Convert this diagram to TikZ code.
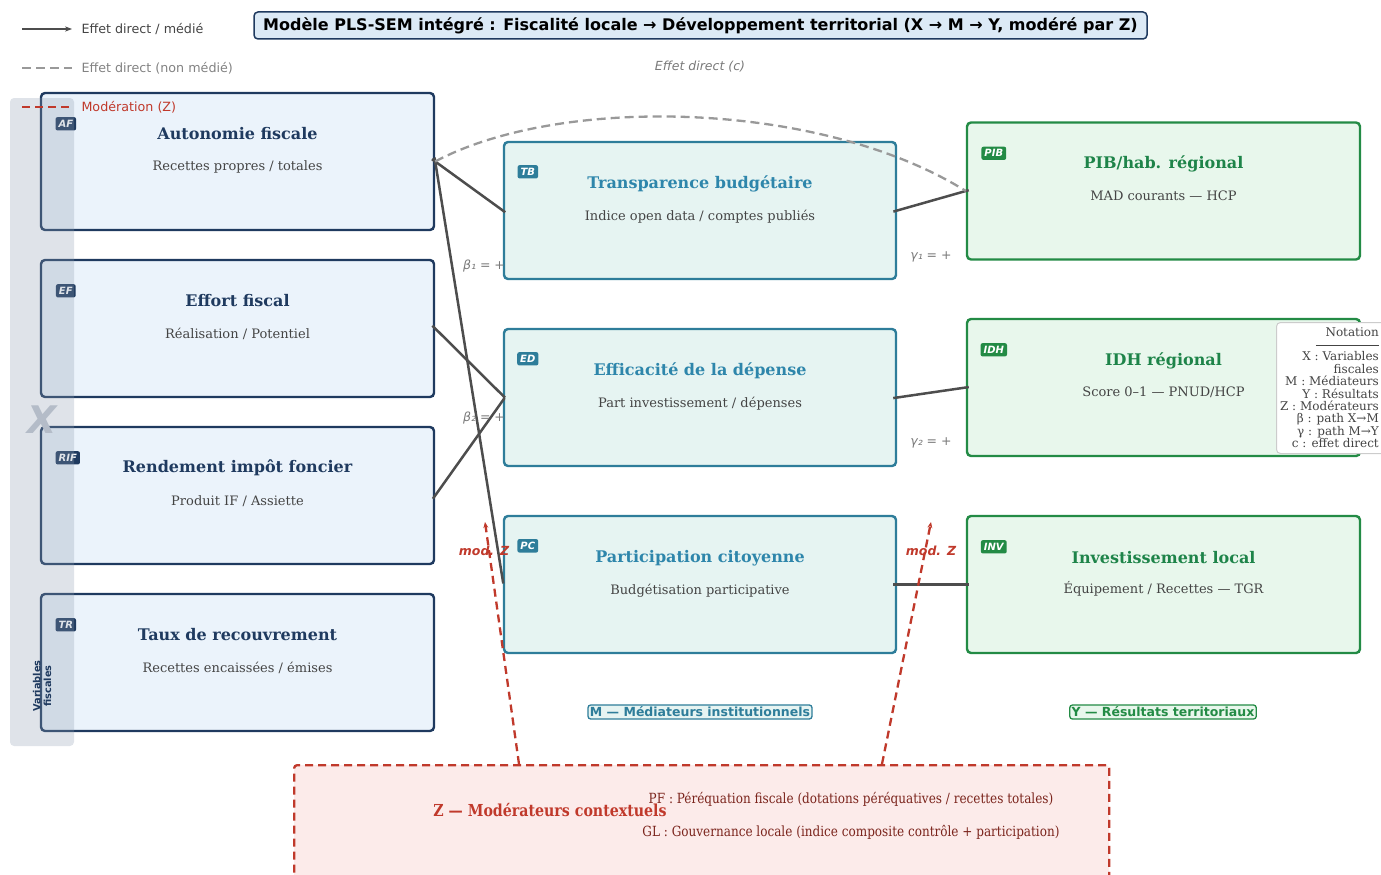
\documentclass[tikz,border=0pt]{standalone}
\usepackage{fontspec}
\setmainfont{DejaVu Serif}
\setsansfont{DejaVu Sans}
\newfontfamily\narrowserif{DejaVu Serif}[FakeStretch=0.86]
\usetikzlibrary{arrows.meta,positioning}

\definecolor{xnavy}{HTML}{1F3A5F}
\definecolor{xfill}{HTML}{EBF3FB}
\definecolor{mteal}{HTML}{2E7D9A}
\definecolor{mtitle}{HTML}{2E86AB}
\definecolor{mfill}{HTML}{E6F4F2}
\definecolor{ygreen}{HTML}{238B45}
\definecolor{ytitle}{HTML}{1E8449}
\definecolor{yfill}{HTML}{E8F7EC}
\definecolor{zred}{HTML}{C0392B}
\definecolor{zfill}{HTML}{FCEBEA}
\definecolor{zdark}{HTML}{7B241C}
\definecolor{subgray}{HTML}{444444}
\definecolor{linegray}{HTML}{4D4D4D}
\definecolor{dashgray}{HTML}{999999}
\definecolor{titlefill}{HTML}{DCEAF6}
\definecolor{bandcol}{HTML}{8C9BAF}
\definecolor{xgray}{HTML}{B4BCC8}

\tikzset{
  varbox/.style={draw, line width=2.4pt, rounded corners=4pt, minimum width=393pt, minimum height=137pt, inner sep=0pt},
  xbox/.style={varbox, draw=xnavy, fill=xfill},
  mbox/.style={varbox, draw=mteal, fill=mfill, minimum width=392pt},
  ybox/.style={varbox, draw=ygreen, fill=yfill},
  badge/.style={rounded corners=2pt, inner sep=3pt, text=white, font=\sffamily\bfseries\itshape\fontsize{10}{10}\selectfont},
  vtitle/.style={font=\bfseries\fontsize{16}{16}\selectfont},
  vsub/.style={text=subgray, font=\fontsize{13}{13}\selectfont},
  effect/.style={draw=linegray, line width=2.5pt, shorten <=-4pt, shorten >=-3pt},
  direct/.style={draw=dashgray, line width=2.3pt, dash pattern=on 9pt off 5pt},
  modline/.style={draw=zred, line width=2.3pt, dash pattern=on 8pt off 5pt, -{Stealth[length=6pt,width=5pt]}},
  modlab/.style={text=zred, font=\sffamily\bfseries\itshape\fontsize{12.5}{12.5}\selectfont},
  coef/.style={text=dashgray!80!black, font=\sffamily\itshape\fontsize{12.5}{12.5}\selectfont},
  legtext/.style={anchor=west, font=\sffamily\fontsize{12.7}{12.7}\selectfont},
  grouplab/.style={line width=1.3pt, rounded corners=3pt, inner sep=2pt, font=\sffamily\bfseries\fontsize{12.5}{12.5}\selectfont}
}

\begin{document}
\begin{tikzpicture}[x=1pt,y=-1pt]
\useasboundingbox (0,0) rectangle (1381,875);

% X : variables fiscales
\node[xbox] (af) at (237.5,161.5) {};
\node[xbox] (ef) at (237.5,328.5) {};
\node[xbox] (rif) at (237.5,495.5) {};
\node[xbox] (tr) at (237.5,662.5) {};
\node[vtitle, text=xnavy] (af-t) at ([yshift=-42pt]af.north) {Autonomie fiscale};
\node[vsub] (af-s) at ([yshift=-75pt]af.north) {Recettes propres / totales};
\node[vtitle, text=xnavy] (ef-t) at ([yshift=-42pt]ef.north) {Effort fiscal};
\node[vsub] (ef-s) at ([yshift=-75pt]ef.north) {Réalisation / Potentiel};
\node[vtitle, text=xnavy] (rif-t) at ([yshift=-42pt]rif.north) {Rendement impôt foncier};
\node[vsub] (rif-s) at ([yshift=-75pt]rif.north) {Produit IF / Assiette};
\node[vtitle, text=xnavy] (tr-t) at ([yshift=-42pt]tr.north) {Taux de recouvrement};
\node[vsub] (tr-s) at ([yshift=-75pt]tr.north) {Recettes encaissées / émises};
\node[badge, fill=xnavy] (af-b) at ([xshift=26pt,yshift=-32pt]af.north west) {AF};
\node[badge, fill=xnavy] (ef-b) at ([xshift=26pt,yshift=-32pt]ef.north west) {EF};
\node[badge, fill=xnavy] (rif-b) at ([xshift=28pt,yshift=-32pt]rif.north west) {RIF};
\node[badge, fill=xnavy] (tr-b) at ([xshift=26pt,yshift=-32pt]tr.north west) {TR};

% M : mediateurs
\node[mbox] (tb) at (700,210.5) {};
\node[mbox] (ed) at (700,397.5) {};
\node[mbox] (pc) at (700,584.5) {};
\node[vtitle, text=mtitle] (tb-t) at ([yshift=-43pt]tb.north) {Transparence budgétaire};
\node[vsub] (tb-s) at ([yshift=-76pt]tb.north) {Indice open data / comptes publiés};
\node[vtitle, text=mtitle] (ed-t) at ([yshift=-43pt]ed.north) {Efficacité de la dépense};
\node[vsub] (ed-s) at ([yshift=-76pt]ed.north) {Part investissement / dépenses};
\node[vtitle, text=mtitle] (pc-t) at ([yshift=-43pt]pc.north) {Participation citoyenne};
\node[vsub] (pc-s) at ([yshift=-76pt]pc.north) {Budgétisation participative};
\node[badge, fill=mteal] (tb-b) at ([xshift=25pt,yshift=-31pt]tb.north west) {TB};
\node[badge, fill=mteal] (ed-b) at ([xshift=25pt,yshift=-31pt]ed.north west) {ED};
\node[badge, fill=mteal] (pc-b) at ([xshift=25pt,yshift=-31pt]pc.north west) {PC};

% Y : resultats
\node[ybox] (pib) at (1163.5,191) {};
\node[ybox] (idh) at (1163.5,387.5) {};
\node[ybox] (inv) at (1163.5,584.5) {};
\node[vtitle, text=ytitle] (pib-t) at ([yshift=-43pt]pib.north) {PIB/hab. régional};
\node[vsub] (pib-s) at ([yshift=-74pt]pib.north) {MAD courants — HCP};
\node[vtitle, text=ytitle] (idh-t) at ([yshift=-43pt]idh.north) {IDH régional};
\node[vsub] (idh-s) at ([yshift=-74pt]idh.north) {Score 0–1 — PNUD/HCP};
\node[vtitle, text=ytitle] (inv-t) at ([yshift=-43pt]inv.north) {Investissement local};
\node[vsub] (inv-s) at ([yshift=-74pt]inv.north) {Équipement / Recettes — TGR};
\node[badge, fill=ygreen] (pib-b) at ([xshift=28pt,yshift=-32pt]pib.north west) {PIB};
\node[badge, fill=ygreen] (idh-b) at ([xshift=28pt,yshift=-32pt]idh.north west) {IDH};
\node[badge, fill=ygreen] (inv-b) at ([xshift=28pt,yshift=-32pt]inv.north west) {INV};

% bande X
\node[fill=bandcol, fill opacity=0.28, rounded corners=4pt, minimum width=64pt, minimum height=648pt] (xband) at (42,422) {};
\node[text=xgray, font=\sffamily\bfseries\itshape\fontsize{38}{38}\selectfont] (xbig) at (42,420) {X};
\node[rotate=90, align=center, text=xnavy, font=\sffamily\bfseries\fontsize{9.8}{10.8}\selectfont] (xlab) at (42,686) {Variables\\fiscales};

% Z
\node[draw=zred, fill=zfill, line width=2.3pt, dash pattern=on 8pt off 5pt, rounded corners=3pt, minimum width=815pt, minimum height=130pt, anchor=north west] (zbox) at (293,764) {};
\node[text=zred, font=\narrowserif\bfseries\fontsize{16.5}{16.5}\selectfont] (z-t) at (550,810) {Z — Modérateurs contextuels};
\node[text=zdark, font=\narrowserif\fontsize{14}{14}\selectfont] (z-pf) at (851,799) {PF : Péréquation fiscale (dotations péréquatives / recettes totales)};
\node[text=zdark, font=\narrowserif\fontsize{14}{14}\selectfont] (z-gl) at (851,832) {GL : Gouvernance locale (indice composite contrôle + participation)};

% groupes
\node[grouplab, draw=mteal, fill=mfill, text=mteal] (mlab) at (700,712) {M — Médiateurs institutionnels};
\node[grouplab, draw=ygreen, fill=yfill, text=ygreen] (ylab) at (1163,712) {Y — Résultats territoriaux};

% chemins
\draw[effect] (af.east) -- (tb.west);
\draw[effect] (af.east) -- ([yshift=4pt]pc.west);
\draw[effect] (ef.east) -- ([yshift=2pt]ed.west);
\draw[effect] (rif.east) -- ([yshift=-3pt]ed.west);
\draw[effect] (tb.east) -- (pib.west);
\draw[effect] (ed.east) -- (idh.west);
\draw[effect] (pc.east) -- (inv.west);
\draw[direct] (af.east) .. controls (560,95) and (820,100) .. (pib.west);
\node[coef] (b1) at (484,266) {β₁ = +};
\node[coef] (b2) at (484,418) {β₂ = +};
\node[coef] (g1) at (931,257) {γ₁ = +};
\node[coef] (g2) at (931,443) {γ₂ = +};
\node[text=dashgray!80!black, font=\sffamily\itshape\fontsize{12.5}{12.5}\selectfont] (c-lab) at (700,67) {Effet direct (c)};

% moderation
\coordinate (mod1) at (485,522);
\coordinate (mod2) at (931,522);
\draw[modline] ([xshift=226pt]zbox.north west) -- (mod1);
\draw[modline] ([xshift=589pt]zbox.north west) -- (mod2);
\node[modlab] (mod1-lab) at (484,551) {mod. Z};
\node[modlab] (mod2-lab) at (931,551) {mod. Z};

% notation
\node[draw=black!20, fill=white, line width=1pt, rounded corners=4pt, minimum width=130pt, minimum height=131pt, anchor=north west] (nota) at (1276,322) {};
\node[anchor=north east, align=right, inner sep=0pt, text=subgray, font=\fontsize{12}{12.4}\selectfont] (nota-txt) at (1379,327) {Notation\\\rule[3pt]{63pt}{0.6pt}\\X : Variables\\fiscales\\M : Médiateurs\\Y : Résultats\\Z : Modérateurs\\β : path X→M\\γ : path M→Y\\c : effet direct};

% titre et legende
\node[draw=xnavy, fill=titlefill, line width=1.5pt, rounded corners=4pt, minimum width=893pt, minimum height=27pt, inner sep=0pt, font=\sffamily\bfseries\fontsize{16}{16}\selectfont] (title) at (700.5,25.5) {Modèle PLS-SEM intégré : Fiscalité locale → Développement territorial (X → M → Y, modéré par Z)};
\draw[draw=linegray, line width=2.5pt, -{Stealth[length=7pt]}] (22,29) -- (72,29);
\node[legtext, text=subgray] (leg1) at (78,29) {Effet direct / médié};
\draw[direct] (22,68) -- (72,68);
\node[legtext, text=dashgray!85!black] (leg2) at (78,68) {Effet direct (non médié)};
\draw[draw=zred, line width=2.3pt, dash pattern=on 8pt off 5pt] (22,107) -- (72,107);
\node[legtext, text=zred] (leg3) at (78,107) {Modération (Z)};
\end{tikzpicture}
\end{document}
